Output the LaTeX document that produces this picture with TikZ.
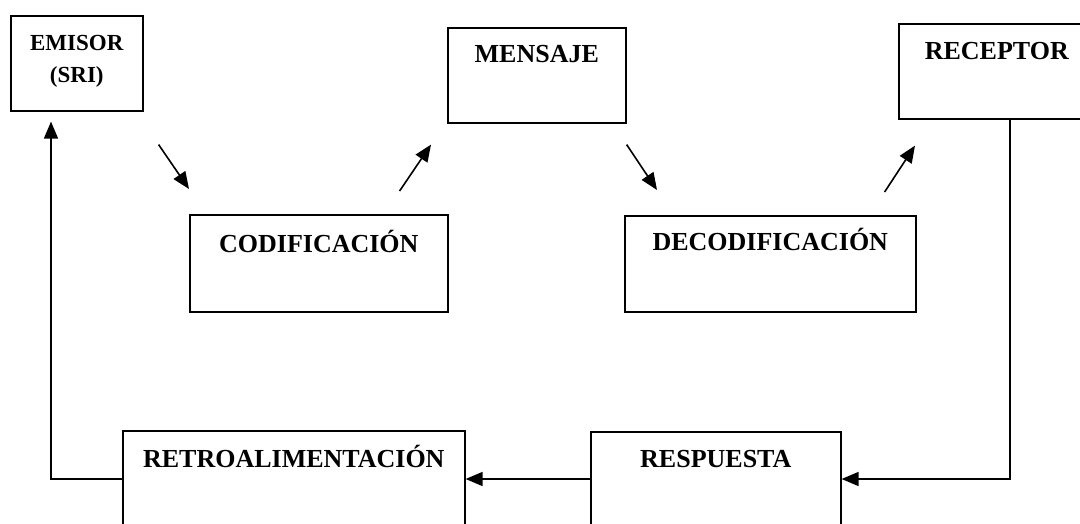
\documentclass[tikz,border=0pt]{standalone}
\usepackage{fontspec}
\setmainfont{Liberation Serif}
\usetikzlibrary{arrows.meta,calc}

\begin{document}
\begin{tikzpicture}[
            x = 1pt, y = -1pt, % one unit per pixel, y going down
            > = {Triangle[length=17pt,width=14pt]}, % arrow head style
            line width = 1.6pt, % line style
            box/.style = {draw, anchor=north west, inner xsep=0pt, inner ysep=0pt,
                align=center, font=\bfseries\fontsize{26}{32}\selectfont}
        ]
	\useasboundingbox (0,0) rectangle (1080,524);
	\clip (0,0) rectangle (1080,524);

	\node[box, minimum width=132pt, text height=67pt, text depth=28pt,
	      font=\bfseries\fontsize{23}{32}\selectfont] (emisor) at (10,15) {EMISOR\\(SRI)};
	\node[box, minimum width=178pt, text height=35pt, text depth=60pt] (mensaje) at (447,27) {MENSAJE};
	\node[box, minimum width=196pt, text height=36pt, text depth=59pt] (receptor) at (898,23) {RECEPTOR};
	\node[box, minimum width=258pt, text height=38pt, text depth=59pt] (codif) at (189,214) {CODIFICACIÓN};
	\node[box, minimum width=291pt, text height=35pt, text depth=61pt] (decodif) at (624,215) {DECODIFICACIÓN};
	\node[box, minimum width=342pt, text height=37pt, text depth=80pt] (retro) at (122,430) {RETROALIMENTACIÓN};
	\node[box, minimum width=250pt, text height=36pt, text depth=80pt] (resp) at (590,431) {RESPUESTA};

	% level of the return line, and where it leaves / reaches the boxes
	\coordinate (fb) at (0,479);
	\coordinate (recout) at ($(receptor.south)+(13,0)$);
	\coordinate (emiin) at ($(emisor.south west)+(41,0)$);

	\draw[->] ($(emisor.south east)+(15,33)$) -- ($(codif.north west)+(0,-25)$);
	\draw[->] ($(codif.north east)+(-49,-23)$) -- ($(mensaje.south west)+(-16,21)$);
	\draw[->] ($(mensaje.south east)+(0,21)$) -- ($(decodif.north west)+(33,-25)$);
	\draw[->] ($(decodif.north east)+(-32,-23)$) -- ($(receptor.south west)+(17,26)$);

	\draw[->] (recout) |- (resp.east |- fb);
	\draw[->] (resp.west |- fb) -- (retro.east |- fb);
	\draw[->, shorten >=10pt] (retro.west |- fb) -| (emiin);

\end{tikzpicture}
\end{document}
